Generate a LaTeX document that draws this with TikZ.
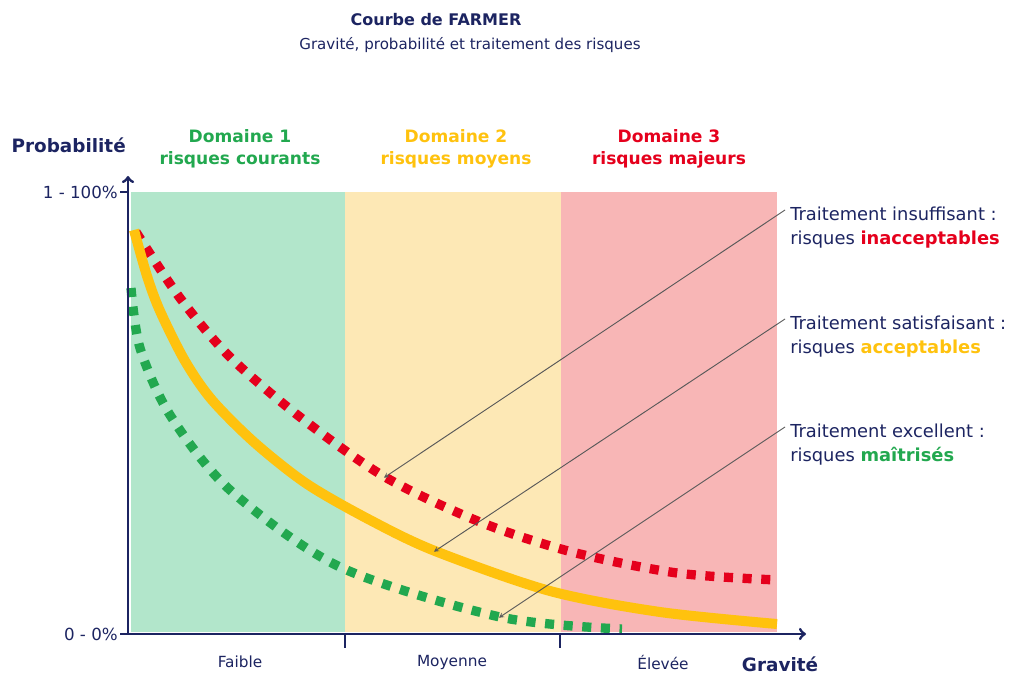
\documentclass[tikz,border=0pt]{standalone}
\usepackage{fontspec}
\setmainfont{DejaVu Sans}
\usetikzlibrary{arrows,calc}

\definecolor{navy}{HTML}{1C2461}
\definecolor{vertzone}{HTML}{B2E6CB}
\definecolor{jaunezone}{HTML}{FDE8B5}
\definecolor{rosezone}{HTML}{F8B6B6}
\definecolor{vert}{HTML}{22A84F}
\definecolor{jaune}{HTML}{FFC20E}
\definecolor{rouge}{HTML}{E5001C}

\begin{document}
\begin{tikzpicture}[x=0.75pt,y=-0.75pt,
    every node/.style={text=navy,inner sep=0pt},
    txt/.style={font=\fontsize{11.5}{14}\selectfont},
    legende/.style={font=\fontsize{13.4}{18}\selectfont,anchor=north west,align=left},
    domaine/.style={font=\bfseries\fontsize{12.8}{16.5}\selectfont,align=center},
    axe/.style={navy,line width=2.2pt},
    pointille/.style={line width=7pt,dash pattern=on 6.8pt off 7.2pt},
    renvoi/.style={draw=black!65,line width=0.7pt,-stealth,shorten >=-1pt}
   ]
  \useasboundingbox (0,0) rectangle (1013,677);

  % titre
  \node[font=\bfseries\fontsize{12}{14}\selectfont] (titre) at (436,20) {Courbe de FARMER};
  \node[font=\fontsize{11.3}{14}\selectfont] (soustitre) at (470,45) {Gravité, probabilité et traitement des risques};

  % zones
  \fill[vertzone] (131,192) rectangle (345,632);
  \fill[jaunezone] (345,192) rectangle (561,632);
  \fill[rosezone] (561,192) rectangle (777,632);

  \node[domaine,text=vert] (dom1) at (240,149) {Domaine 1\\risques courants};
  \node[domaine,text=jaune] (dom2) at (456,149) {Domaine 2\\risques moyens};
  \node[domaine,text=rouge] (dom3) at (669,149) {Domaine 3\\risques majeurs};

  % courbes
  \draw[rouge,pointille] plot[smooth] coordinates
    {(136,232) (180,298) (230,357) (300,417) (385,477)
     (480,522) (572,552) (677,573) (777,580)};
  \draw[jaune,line width=7.5pt] plot[smooth] coordinates
    {(134,230) (147,276) (160,311) (185,361) (212,400) (255,443) (307,484)
     (370,520) (435,551) (550,591) (660,612) (777,624)};
  \draw[vert,pointille] plot[smooth] coordinates
    {(131,288) (140,348) (170,415) (230,490) (340,567)
     (500,617) (622,629)};

  \coordinate (prouge) at (385,477);
  \coordinate (pjaune) at (435,551);
  \coordinate (pvert) at (500,617);

  % axes
  \coordinate (O) at (128,634);
  \draw[axe,-to] (O) -- (128,176) coordinate (ytop);
  \draw[axe,-to] (O) -- (806,634) coordinate (xend);
  \draw[axe,line width=1.6pt] (120,192) -- (128,192);
  \draw[axe,line width=1.6pt] (120,634) -- (128,634);
  \draw[axe] (345,634) -- (345,648);
  \draw[axe] (560,634) -- (560,648);

  \node[font=\bfseries\fontsize{13.8}{16}\selectfont,anchor=east] (proba) at (126,145) {Probabilité};
  \node[font=\fontsize{12.5}{14}\selectfont,anchor=east] (ymax) at (118,192) {1 - 100\%};
  \node[font=\fontsize{12.5}{14}\selectfont,anchor=east] (ymin) at (118,634) {0 - 0\%};
  \node[font=\bfseries\fontsize{13.8}{16}\selectfont] (gravite) at (780,664) {Gravité};
  \node[txt] (faible) at (240,662) {Faible};
  \node[txt] (moyenne) at (452,662) {Moyenne};
  \node[txt] (elevee) at (663,662) {Élevée};

  % traitements
  \node[legende] (insuf) at (790,207)
    {Traitement insuffisant :\\risques \textbf{\color{rouge}inacceptables}};
  \node[legende] (satis) at (790,316)
    {Traitement satisfaisant :\\risques \textbf{\color{jaune}acceptables}};
  \node[legende] (excel) at (790,424)
    {Traitement excellent :\\risques \textbf{\color{vert}maîtrisés}};

  \draw[renvoi] ($(insuf.north west)+(-5,3)$) -- (prouge);
  \draw[renvoi] ($(satis.north west)+(-5,3)$) -- (pjaune);
  \draw[renvoi] ($(excel.north west)+(-5,3)$) -- (pvert);
\end{tikzpicture}
\end{document}
